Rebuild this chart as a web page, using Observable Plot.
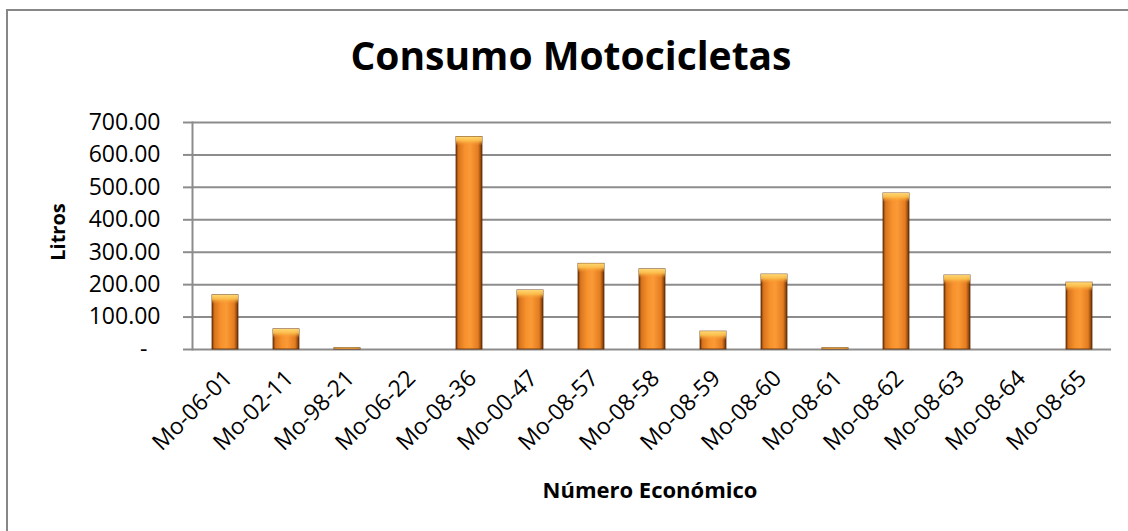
<!DOCTYPE html>
<html>
<head>
<meta charset="utf-8">
<script src="https://cdn.jsdelivr.net/npm/d3@7"></script>
<script src="https://cdn.jsdelivr.net/npm/@observablehq/plot@0.6"></script>
<style>
  html, body { margin: 0; padding: 0; background: #fff; overflow: hidden; }
  #wrap { position: relative; width: 1128px; height: 531px; overflow: hidden; }
  #wrap svg { display: block; }
  #border { position: absolute; left: 6px; top: 9px; width: 1200px; height: 600px;
            border-left: 2px solid #878787; border-top: 2px solid #878787; pointer-events: none; }
</style>
</head>
<body>
<div id="wrap"><div id="border"></div></div>
<script>
const titleText = "Consumo Motocicletas";
const xLabel = "Número Económico";
const yLabel = "Litros";
const categories = ["Mo-06-01","Mo-02-11","Mo-98-21","Mo-06-22","Mo-08-36","Mo-00-47","Mo-08-57","Mo-08-58","Mo-08-59","Mo-08-60","Mo-08-61","Mo-08-62","Mo-08-63","Mo-08-64","Mo-08-65"];
const litros = [167, 62, 4, 0, 655, 182, 264, 247, 55, 231, 4, 481, 228, 0, 206];
const yTicks = [0, 100, 200, 300, 400, 500, 600, 700];

const data = categories.map((c, i) => ({cat: c, v: litros[i]}));
const bars = data.filter(d => d.v > 0);

const fmt = d => d === 0 ? "-\u2007" : d3.format(".2f")(d);

const plot = Plot.plot({
  width: 1128,
  height: 531,
  marginLeft: 192,
  marginRight: 17,
  marginTop: 122,
  marginBottom: 182,
  style: {fontFamily: "'Open Sans', sans-serif", fontSize: "20px", color: "#000", background: "transparent"},
  x: {domain: categories, paddingInner: 0.575, paddingOuter: 0.2875, label: null},
  y: {domain: [0, 700], label: null},
  marks: [
    Plot.ruleY(yTicks, {stroke: "#8c8c8c", strokeWidth: 2}),
    Plot.axisY({ticks: yTicks, tickFormat: fmt, tickSize: 9, tickPadding: 23, stroke: "#8c8c8c", strokeWidth: 2, fontSize: 23, label: null}),
    Plot.frame({anchor: "left", stroke: "#8c8c8c", strokeWidth: 2}),
    Plot.rectY(bars, {x: "cat", y: "v", fill: "url(#barGrad)", stroke: "#5a2a06", strokeWidth: 1, strokeOpacity: 0.8}),
    Plot.rectY(bars, {x: "cat", y1: "v", y2: d => Math.max(0, d.v - 28), fill: "url(#capGrad)"}),
    Plot.axisX({tickRotate: -45, tickSize: 0, tickPadding: 25, dx: 3, fontSize: 23, label: null})
  ]
});

const svg = d3.select(plot);
const defs = svg.insert("defs", ":first-child");
const g1 = defs.append("linearGradient").attr("id", "barGrad").attr("x1", "0").attr("x2", "1").attr("y1", "0").attr("y2", "0");
[["0%", "#7a3a0c"], ["10%", "#d9741c"], ["35%", "#f7922e"], ["55%", "#fa9a36"], ["85%", "#e47c20"], ["100%", "#6b3207"]]
  .forEach(([o, c]) => g1.append("stop").attr("offset", o).attr("stop-color", c));
const g2 = defs.append("linearGradient").attr("id", "capGrad").attr("x1", "0").attr("x2", "0").attr("y1", "0").attr("y2", "1");
[["0%", "#ffd873", 1], ["45%", "#fcc24f", 0.9], ["100%", "#f7922e", 0]]
  .forEach(([o, c, a]) => g2.append("stop").attr("offset", o).attr("stop-color", c).attr("stop-opacity", a));

svg.append("text").text(titleText)
  .attr("x", 571).attr("y", 70).attr("text-anchor", "middle")
  .attr("font-family", "'Open Sans', sans-serif").attr("font-weight", "bold").attr("font-size", 39).attr("fill", "#000");
svg.append("text").text(xLabel)
  .attr("x", 650).attr("y", 498).attr("text-anchor", "middle")
  .attr("font-family", "'Open Sans', sans-serif").attr("font-weight", "bold").attr("font-size", 22).attr("fill", "#000");
svg.append("text").text(yLabel)
  .attr("transform", "translate(65,232) rotate(-90)").attr("text-anchor", "middle")
  .attr("font-family", "'Open Sans', sans-serif").attr("font-weight", "bold").attr("font-size", 20).attr("fill", "#000");

document.getElementById("wrap").prepend(plot);
</script>
</body>
</html>
